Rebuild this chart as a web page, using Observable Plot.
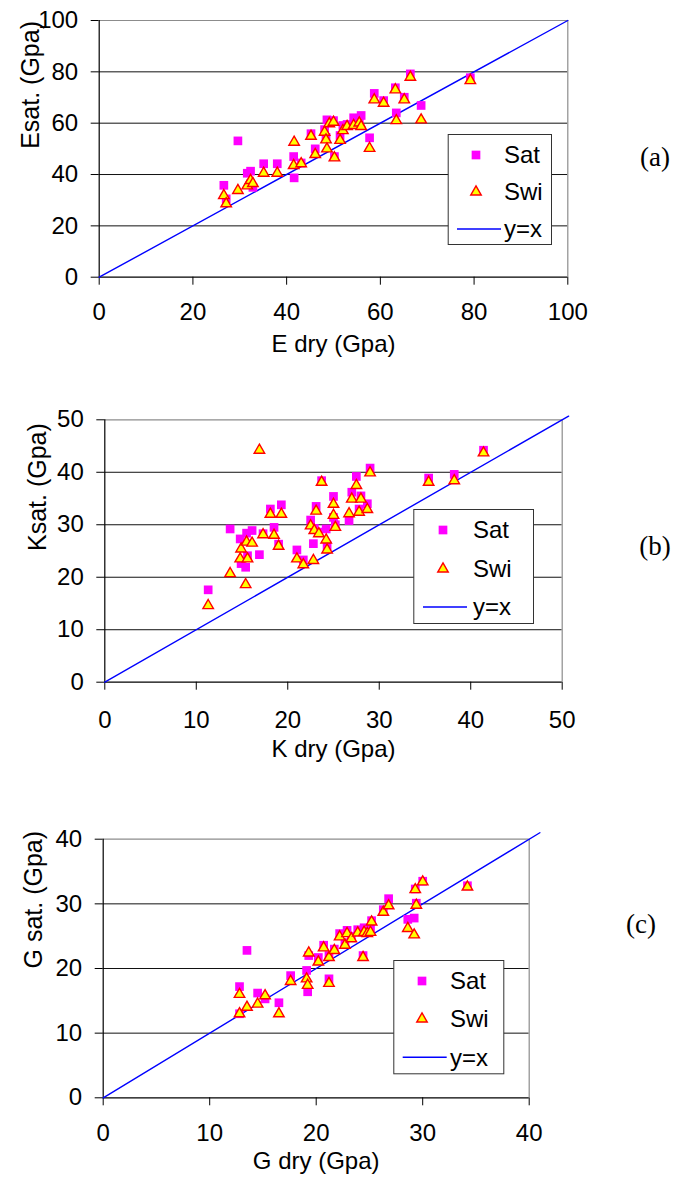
<!DOCTYPE html>
<html><head><meta charset="utf-8">
<script src="https://cdn.jsdelivr.net/npm/d3@7"></script>
<script src="https://cdn.jsdelivr.net/npm/@observablehq/plot@0.6"></script>
<style>
body{margin:0;background:#fff;}
#page{position:relative;width:675px;height:1192px;overflow:hidden;background:#fff;font-family:"Liberation Sans",Arial,sans-serif;}
.tag{position:absolute;font-family:"Liberation Serif","Times New Roman",serif;font-size:27px;transform:translate(-50%,-50%);white-space:nowrap;}
</style></head><body><div id="page"></div>
<script>
// ---- Panel (a): Young's modulus E ----
const eDry = [26.6,27.1,29.6,31.6,32.3,32.8,35.1,38.0,41.5,41.6,43.1,45.2,46.1,48.1,48.4,48.6,49.1,50.0,50.2,51.4,52.0,52.9,54.3,55.5,55.9,57.7,58.7,60.7,63.2,63.4,65.1,66.4,68.7,79.2];
const eSat = [35.8,30.5,53.1,40.5,41.3,35.0,44.2,44.2,47.0,38.7,44.5,55.9,50.0,57.5,54.5,61.3,60.5,61.0,47.0,55.2,59.1,59.5,62.1,61.0,63.0,54.3,71.6,68.8,73.8,64.0,70.1,79.2,66.9,77.7];
const eSwi = [31.8,28.6,33.8,35.6,37.7,36.5,40.5,40.5,43.5,52.6,44.2,54.9,47.8,56.5,53.5,50.0,59.8,60.4,46.5,53.3,57.1,58.7,59.1,60.1,58.7,50.2,69.1,67.8,73.0,61.0,69.1,77.9,61.3,76.6];
// ---- Panel (b): bulk modulus K ----
const kDry = [11.3,13.7,14.8,14.9,15.4,15.5,15.6,16.1,16.9,17.3,18.1,18.5,19.0,19.3,21.0,21.7,22.5,22.8,22.9,23.1,23.4,23.7,24.2,24.3,25.0,25.0,25.2,26.7,27.0,27.5,27.8,28.0,28.7,29.0,35.4,38.2,41.4];
const kSat = [17.6,29.2,27.3,22.6,21.9,28.4,24.1,28.9,24.3,28.3,33.0,29.5,26.3,33.8,25.2,23.3,30.9,26.4,29.3,33.5,28.6,38.4,29.2,26.0,35.4,31.4,30.0,30.8,36.2,39.2,33.0,35.5,34.0,40.8,38.9,39.6,44.2];
const kSwi = [14.6,20.7,23.5,25.4,18.6,26.7,23.5,26.5,44.2,28.1,32.0,28.0,25.9,32.0,23.5,22.4,29.8,23.2,28.9,32.6,28.3,38.1,27.1,25.2,33.9,31.8,29.5,32.1,34.9,37.5,32.4,34.9,32.9,39.9,38.1,38.4,43.7];
// ---- Panel (c): shear modulus G ----
const gDry = [12.8,12.8,13.5,14.5,15.2,16.5,17.6,19.1,19.2,19.3,20.2,20.7,21.2,21.2,21.7,22.2,22.7,22.9,23.3,23.9,24.4,24.5,24.8,25.1,25.2,26.3,26.8,28.6,29.2,29.3,29.4,30.0,34.2];
const gSat = [17.2,13.0,22.8,16.2,15.3,14.7,18.9,19.7,16.4,22.0,21.7,23.6,18.4,22.0,23.0,25.4,24.0,25.9,25.0,26.0,22.0,26.3,26.0,26.2,27.4,29.1,30.8,27.6,27.8,32.3,30.1,33.5,32.8];
const gSwi = [16.0,13.0,14.0,14.5,15.8,13.0,18.0,18.4,17.4,22.4,21.0,23.2,17.7,21.7,22.8,24.9,23.6,25.4,24.6,25.5,21.7,25.6,25.4,25.6,27.2,28.7,29.7,26.2,25.2,32.2,29.8,33.4,32.6];

const seriesNames = ["Sat", "Swi", "y=x"];
const panelTags = ["(a)", "(b)", "(c)"];
const xTitles = ["E dry (Gpa)", "K dry (Gpa)", "G dry (Gpa)"];
const yTitles = ["Esat. (Gpa)", "Ksat. (Gpa)", "G sat. (Gpa)"];
const axisMax = [100, 50, 40];
const axisStep = [20, 10, 10];
const identityEnd = [100, 50.7, 41];

const FONT = "'Liberation Sans', Arial, sans-serif";
const SQ_R = 4.9, TRI_R = 3.9;
const page = document.getElementById("page");

const layouts = [
  {top:0,   height:380, mt:20,   mb:103.3, ml:98.7,  mr:107.7, xPad:18, xLabDy:75, yLabDx:-68.7},
  {top:400, height:380, mt:19.3, mb:98.3,  ml:104.3, mr:113.3, xPad:21, xLabDy:75, yLabDx:-67.3},
  {top:810, height:382, mt:28.7, mb:94.7,  ml:102.7, mr:146.3, xPad:18, xLabDy:71, yLabDx:-69.7}
];
const dataSets = [[eDry,eSat,eSwi],[kDry,kSat,kSwi],[gDry,gSat,gSwi]];

dataSets.forEach(([xs, sat, swi], i) => {
  const L = layouts[i];
  const max = axisMax[i], step = axisStep[i];
  const ticks = d3.range(0, max + step/2, step);
  const rows = xs.map((x, j) => ({x, sat: sat[j], swi: swi[j]}));
  const svg = Plot.plot({
    width: 675, height: L.height,
    marginTop: L.mt, marginBottom: L.mb, marginLeft: L.ml, marginRight: L.mr,
    style: {fontFamily: FONT, fontSize: "24px", color: "#000", background: "transparent", overflow: "visible"},
    x: {domain: [0, max], ticks, tickSize: 8, tickPadding: L.xPad, label: null},
    y: {domain: [0, max], ticks, tickSize: 8, tickPadding: 13, label: null},
    marks: [
      Plot.ruleY(ticks.filter(t => t > 0 && t < max), {stroke: "#111", strokeWidth: 1}),
      Plot.ruleY([max], {stroke: "#8c8c8c", strokeWidth: 1.2}),
      Plot.ruleX([max], {stroke: "#8c8c8c", strokeWidth: 1.2}),
      Plot.ruleX([0], {stroke: "#000", strokeWidth: 1.2}),
      Plot.ruleY([0], {stroke: "#000", strokeWidth: 1.2}),
      Plot.line([[0, 0], [identityEnd[i], identityEnd[i]]], {stroke: "#0000ff", strokeWidth: 1.4}),
      Plot.dot(rows, {x: "x", y: "sat", symbol: "square", r: SQ_R, fill: "#ff00ff"}),
      Plot.dot(rows, {x: "x", y: "swi", symbol: "triangle", r: TRI_R, fill: "#ffff00", stroke: "#ff0000", strokeWidth: 1.4}),
      Plot.text([xTitles[i]], {frameAnchor: "bottom", dy: L.xLabDy, text: d => d, fontSize: 24, fill: "#000"}),
      Plot.text([yTitles[i]], {frameAnchor: "left", dx: L.yLabDx, rotate: -90, text: d => d, fontSize: 25, fill: "#000"})
    ]
  });
  svg.style.position = "absolute";
  svg.style.left = "0px";
  svg.style.top = L.top + "px";
  page.appendChild(svg);
});

// ---- Legends (overlay) ----
const legends = [
  {x0:447.7, y0:134, x1:551,   y1:244,    rows:[155,192,229],    mx:476, lx:[457,501],     tx:504},
  {x0:413.3, y0:509, x1:533,   y1:623,    rows:[530,569,607],    mx:443, lx:[423,467],     tx:473},
  {x0:393.3, y0:960, x1:503.3, y1:1073.3, rows:[981,1019,1057.3], mx:422, lx:[402.7,446.7], tx:450}
];
const ov = d3.select(page).append("svg")
  .attr("width", 675).attr("height", 1192)
  .style("position", "absolute").style("left", 0).style("top", 0)
  .style("pointer-events", "none");
const sqSide = Math.sqrt(Math.PI) * SQ_R;
const triPath = d3.symbol(d3.symbolTriangle, Math.PI * TRI_R * TRI_R)();
legends.forEach(g => {
  ov.append("rect").attr("x", g.x0 + 0.5).attr("y", g.y0 + 0.5)
    .attr("width", g.x1 - g.x0).attr("height", g.y1 - g.y0)
    .attr("fill", "#fff").attr("stroke", "#333").attr("stroke-width", 1);
  ov.append("rect").attr("x", g.mx - sqSide/2).attr("y", g.rows[0] - sqSide/2)
    .attr("width", sqSide).attr("height", sqSide).attr("fill", "#ff00ff");
  ov.append("path").attr("d", triPath).attr("transform", `translate(${g.mx},${g.rows[1]})`)
    .attr("fill", "#ffff00").attr("stroke", "#ff0000").attr("stroke-width", 1.4);
  ov.append("line").attr("x1", g.lx[0]).attr("x2", g.lx[1]).attr("y1", g.rows[2]).attr("y2", g.rows[2])
    .attr("stroke", "#0000ff").attr("stroke-width", 1.4);
  seriesNames.forEach((name, k) => {
    ov.append("text").attr("x", g.tx).attr("y", g.rows[k]).attr("dy", "0.35em")
      .attr("font-family", FONT).attr("font-size", 24).attr("fill", "#000").text(name);
  });
});

// ---- Panel tags ----
const tagPos = [[655,157],[655,546],[641,924]];
panelTags.forEach((t, i) => {
  const d = document.createElement("div");
  d.className = "tag";
  d.style.left = tagPos[i][0] + "px";
  d.style.top = tagPos[i][1] + "px";
  d.textContent = t;
  page.appendChild(d);
});
</script>
</body></html>
